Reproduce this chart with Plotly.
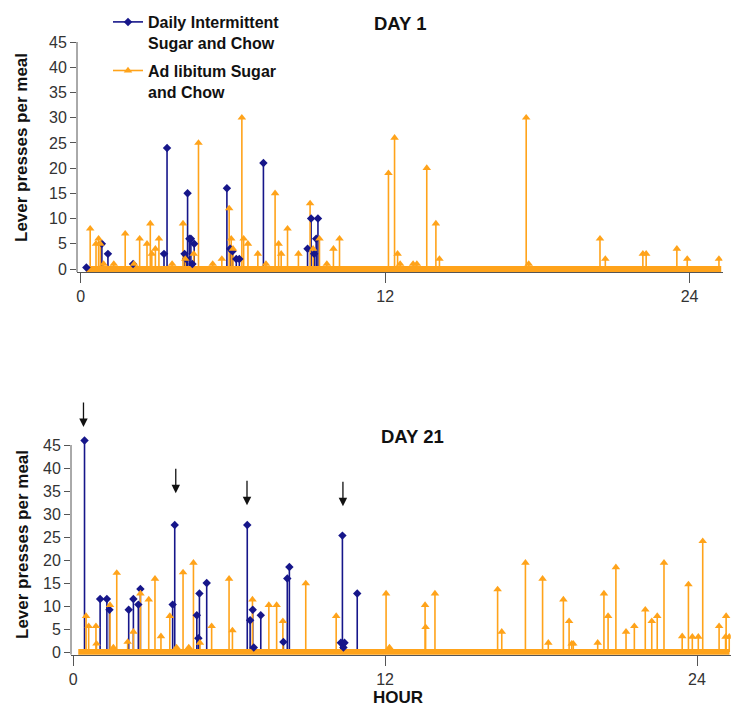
import plotly.graph_objects as go

# ---------------- data ----------------
hour_ticks = [0, 12, 24]
y_ticks = list(range(0, 50, 5))
series_names = ["Daily Intermittent<br>Sugar and Chow", "Ad libitum Sugar<br>and Chow"]
panel_titles = ["DAY 1", "DAY 21"]
session_hours = [0.2, 25.25]

# DAY 1 - Daily Intermittent Sugar and Chow (meal time in hours, lever presses)
d1_int_t = [0.22, 0.83, 1.07, 2.06, 3.28, 3.40, 4.09, 4.16, 4.21, 4.28, 4.34, 4.40,
            4.47, 5.76, 5.89, 5.98, 6.13, 6.25, 7.20, 8.94, 9.08, 9.20, 9.28, 9.35]
d1_int_v = [0.3, 5, 3, 1, 3, 24, 3, 2, 15, 6, 6, 1,
            5, 16, 4, 3.5, 2, 2, 21, 4, 10, 3, 6, 10]

# DAY 1 - Ad libitum Sugar and Chow
d1_adl_t = [0.37, 0.60, 0.70, 0.77, 0.90, 1.30, 1.75, 2.10, 2.32, 2.61, 2.74, 2.80,
            2.94, 3.08, 3.60, 4.03, 4.12, 4.45, 4.64, 5.20, 5.56, 5.85, 5.93, 6.00,
            6.35, 6.42, 6.59, 6.98, 7.30, 7.66, 7.80, 7.90, 8.15, 8.58, 9.04, 9.16,
            9.41, 9.70, 9.96, 10.20, 12.13, 12.37, 12.49, 12.59, 13.10, 13.25, 13.64,
            14.00, 14.14, 17.56, 17.66, 20.47, 20.68, 22.16, 22.29, 23.50, 23.91, 25.16]
d1_adl_v = [8, 5, 6, 5, 1, 1, 7, 1, 6, 5, 9, 3,
            4, 6, 1, 9, 2, 3, 25, 1, 2, 12, 6, 4,
            30, 6, 5, 3, 1, 15, 5, 3, 8, 3, 13, 4,
            6, 1, 4, 6, 19, 26, 3, 1, 1, 1, 20,
            9, 2, 30, 1, 6, 2, 3, 3, 4, 2, 2]

# DAY 21 - Daily Intermittent Sugar and Chow
d21_int_t = [0.44, 1.04, 1.30, 1.40, 2.14, 2.32, 2.51, 2.59, 3.83, 3.91, 4.76, 4.82,
             4.86, 5.14, 6.70, 6.81, 6.91, 6.95, 7.22, 8.09, 8.24, 8.32, 10.30, 10.36,
             10.40, 10.44, 10.93]
d21_int_v = [46, 11.5, 11.5, 9.2, 9.2, 11.5, 10.3, 13.7, 10.3, 27.6, 8, 3,
             12.7, 15, 27.6, 6.9, 9.2, 1, 8, 2.2, 16, 18.5, 2, 25.3,
             1, 2, 12.7]

# DAY 21 - Ad libitum Sugar and Chow
d21_adl_t = [0.50, 0.60, 0.88, 0.90, 1.42, 1.55, 1.68, 2.10, 2.32, 2.59, 2.91, 3.15,
             3.38, 3.72, 3.98, 4.23, 4.45, 4.63, 4.88, 5.33, 6.00, 6.13, 6.90, 7.53,
             7.83, 8.07, 8.95, 10.12, 12.04, 12.17, 13.54, 13.56, 13.92, 16.33, 16.49,
             17.40, 18.06, 18.28, 18.86, 19.08, 19.18, 19.24, 20.18, 20.42, 20.58,
             20.88, 21.27, 21.59, 22.01, 22.26, 22.47, 22.73, 23.43, 23.67, 23.82,
             24.05, 24.22, 24.85, 25.10, 25.12, 25.24]
d21_adl_v = [7.8, 5.6, 5.6, 1.8, 10.2, 1, 17.2, 2.2, 4.4, 12.7, 11.4, 15.9,
             3.4, 7.8, 1, 17.3, 1, 19.4, 2, 5.6, 15.9, 4.7, 11.4, 10.2,
             10.2, 6.7, 14.9, 7.8, 12.7, 1, 10.2, 5.4, 12.7, 13.6, 4.4,
             19.4, 15.9, 2, 11.4, 6.7, 1.8, 1.8, 2, 12.7, 7.8,
             18.4, 4.4, 5.6, 9.2, 6.7, 7.8, 19.4, 3.4, 14.7, 3.3,
             3.3, 24.1, 5.6, 3.3, 7.8, 3.3]

# sugar-access arrows on DAY 21 (hour, arrow tip height)
arrow_hours = [0.40, 3.95, 6.69, 10.38]
arrow_tips = [48.9, 34.5, 31.9, 31.7]

# ---------------- styling ----------------
BLUE = "#16168a"
ORANGE = "#FFA31A"
AXIS = "#555555"
TXT = "#333333"
DARK = "#111111"
FONT = "Liberation Sans, Arial, sans-serif"

# page body has an 8px default margin -> figure is drawn 8px in from the window edge
OFF = 8
W, H = 750 - OFF, 718 - OFF


def px(x):  # window x pixel -> paper fraction
    return (x - OFF) / W


def py(y):  # window y pixel -> paper fraction
    return 1 - (y - OFF) / H


def stems(t, v):
    xs, ys = [], []
    for ti, vi in zip(t, v):
        xs += [ti, ti, None]
        ys += [0, vi, None]
    return xs, ys


fig = go.Figure()

panels = [
    ("x", "y", d1_int_t, d1_int_v, d1_adl_t, d1_adl_v),
    ("x2", "y2", d21_int_t, d21_int_v, d21_adl_t, d21_adl_v),
]

for i, (xa, ya, it, iv, at, av) in enumerate(panels):
    bx, by = stems(it, iv)
    ox, oy = stems(at, av)
    fig.add_trace(go.Scatter(x=bx, y=by, mode="lines", xaxis=xa, yaxis=ya,
                             line=dict(color=BLUE, width=1.6), showlegend=False,
                             hoverinfo="skip"))
    fig.add_trace(go.Scatter(x=ox, y=oy, mode="lines", xaxis=xa, yaxis=ya,
                             line=dict(color=ORANGE, width=1.6), showlegend=False,
                             hoverinfo="skip"))
    fig.add_trace(go.Scatter(x=session_hours, y=[0, 0], mode="lines", xaxis=xa, yaxis=ya,
                             line=dict(color=ORANGE, width=6), showlegend=False,
                             hoverinfo="skip"))
    fig.add_trace(go.Scatter(x=it, y=iv, mode="markers", xaxis=xa, yaxis=ya,
                             marker=dict(symbol="diamond", size=6.5, color=BLUE),
                             showlegend=False, name=series_names[0]))
    fig.add_trace(go.Scatter(x=at, y=av, mode="markers", xaxis=xa, yaxis=ya,
                             marker=dict(symbol="triangle-up", size=7.5, color=ORANGE),
                             showlegend=False, name=series_names[1]))

# legend entries
fig.add_trace(go.Scatter(x=[None], y=[None], mode="lines+markers",
                         name="<b>" + series_names[0] + "</b>", legendgroup="a",
                         line=dict(color=BLUE, width=1.6),
                         marker=dict(symbol="diamond", size=6.5, color=BLUE)))
fig.add_trace(go.Scatter(x=[None], y=[None], mode="lines+markers",
                         name="<b>" + series_names[1] + "</b>", legendgroup="b",
                         line=dict(color=ORANGE, width=1.6),
                         marker=dict(symbol="triangle-up", size=7.5, color=ORANGE)))

xcommon = dict(tickvals=hour_ticks, ticks="outside", ticklen=10, tickcolor=AXIS,
               showline=True, linecolor=AXIS, showgrid=False, zeroline=False,
               automargin=False, tickfont=dict(size=16, color=TXT, family=FONT))
ycommon = dict(tickvals=y_ticks, ticks="outside", ticklen=6,
               tickcolor=AXIS, showline=False, showgrid=False,
               zeroline=False, automargin=False,
               tickfont=dict(size=16, color=TXT, family=FONT))

# vertical plot geometry (window px): value 45 and value 0 positions for each panel
top45, top0 = 42, 269
bot45, bot0 = 445, 652
y_lo, y_hi_top, y_hi_bot = -0.6, 45.2, 50.5
ppu_top = (top0 - top45) / 45.0
ppu_bot = (bot0 - bot45) / 45.0
ydom_top = [py(top0 - y_lo * ppu_top), py(top0 - y_hi_top * ppu_top)]
ydom_bot = [py(bot0 - y_lo * ppu_bot), py(bot0 - y_hi_bot * ppu_bot)]


def label(text, x, y, size, angle=0):
    return dict(text=text, x=px(x), y=py(y), xref="paper", yref="paper",
                xanchor="center", yanchor="middle", textangle=angle,
                showarrow=False, font=dict(size=size, color=DARK, family=FONT))


annotations = [
    label("<b>%s</b>" % panel_titles[0], 400, 24, 18.5),
    label("<b>%s</b>" % panel_titles[1], 412, 436, 18.5),
    label("<b>Lever presses per meal</b>", 22, 148, 17, -90),
    label("<b>Lever presses per meal</b>", 22, 545, 17, -90),
    label("<b>HOUR</b>", 398, 697, 17),
]
for ah, tip in zip(arrow_hours, arrow_tips):
    annotations.append(dict(x=ah, y=tip, xref="x2", yref="y2", ax=0, ay=-26,
                            showarrow=True, arrowhead=2, arrowsize=1.3, arrowwidth=1.3,
                            arrowcolor=DARK, text=""))

# y-axis lines drawn only from 0 to 45 (as in the original)
shapes = [
    dict(type="line", xref="x domain", yref="y", x0=0, x1=0, y0=y_lo, y1=45,
         line=dict(color=AXIS, width=1)),
    dict(type="line", xref="x2 domain", yref="y2", x0=0, x1=0, y0=y_lo, y1=45,
         line=dict(color=AXIS, width=1)),
]

fig.update_layout(
    template="none",
    width=W, height=H,
    margin=dict(l=0, r=0, t=0, b=0, autoexpand=False),
    paper_bgcolor="white", plot_bgcolor="white",
    font=dict(family=FONT, color=TXT),
    xaxis=dict(domain=[px(77), px(722.5)], range=[-0.15, 25.3], anchor="y", **xcommon),
    yaxis=dict(domain=ydom_top, range=[y_lo, y_hi_top], anchor="x", **ycommon),
    xaxis2=dict(domain=[px(71), px(730.8)], range=[-0.08, 25.3], anchor="y2", **xcommon),
    yaxis2=dict(domain=ydom_bot, range=[y_lo, y_hi_bot], anchor="x2", **ycommon),
    legend=dict(x=px(108), y=py(5), xanchor="left", yanchor="top",
                bgcolor="rgba(0,0,0,0)", valign="top", tracegroupgap=4,
                font=dict(size=16, color=DARK, family=FONT)),
    annotations=annotations,
    shapes=shapes,
    showlegend=True,
)

fig.write_html("out.html")
